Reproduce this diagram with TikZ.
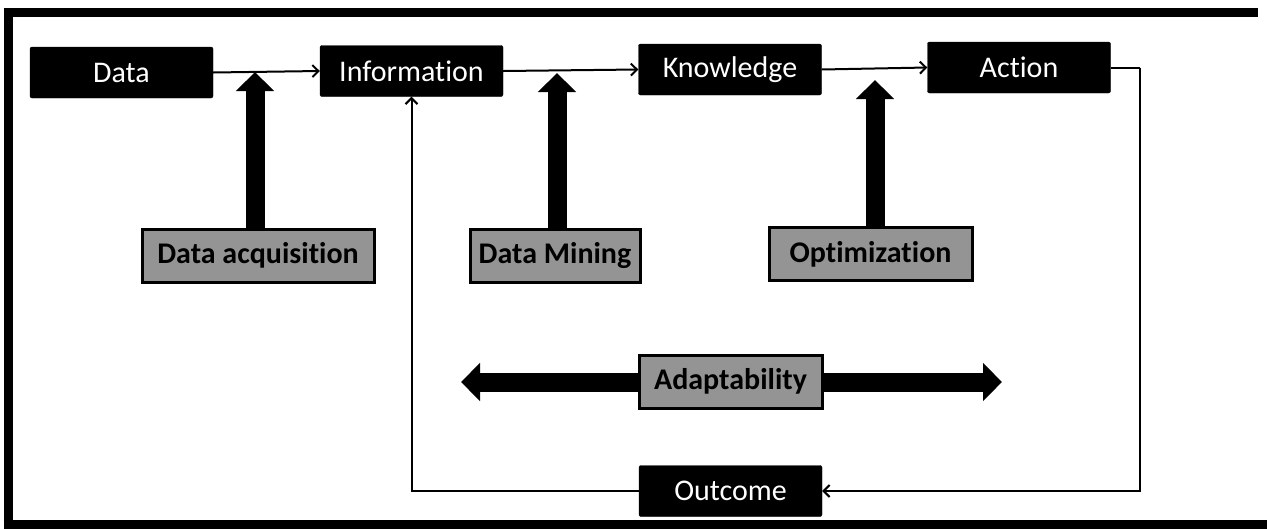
\documentclass[tikz,border=0pt]{standalone}
\usepackage{fontspec}
\setmainfont{Carlito}[Ligatures={NoCommon}]
\usetikzlibrary{arrows.meta}
\tikzset{
  darkbox/.style={draw=black, fill=black, text=white, rounded corners=2pt,
    minimum width=183pt, minimum height=51pt, inner sep=0pt,
    font=\fontsize{30}{32}\selectfont},
  lightbox/.style={draw=black, line width=3pt, fill=black!42, text=black,
    minimum height=53pt, inner sep=0pt,
    font=\bfseries\fontsize{30}{32}\selectfont},
  conn/.style={line width=2pt, -{Straight Barb[length=6pt,width=12pt]}},
  plainconn/.style={line width=2pt},
  fat/.style={line width=19pt, -{Triangle[length=19pt,width=37pt]}},
  fatboth/.style={line width=19pt, {Triangle[length=19pt,width=37pt]}-{Triangle[length=19pt,width=37pt]}},
  frameline/.style={line width=9pt}
}
\begin{document}
\begin{tikzpicture}[x=1pt,y=-1pt]
\useasboundingbox[fill=white] (0,0) rectangle (1267,528);
% frame
\coordinate (f1) at (8,12);
\coordinate (f2) at (8,528);
\coordinate (f3) at (3.5,12.5);
\coordinate (f4) at (1258,12.5);
\coordinate (f5) at (3.5,524.5);
\coordinate (f6) at (1267,524.5);
\draw[frameline] (f1) -- (f2);
\draw[frameline] (f3) -- (f4);
\draw[frameline] (f5) -- (f6);
% main row
\node[darkbox] (data) at (121.5,72.5) {Data};
\node[darkbox] (info) at (411.5,71) {Information};
\node[darkbox] (know) at (730,69.5) {Knowledge};
\node[darkbox] (act) at (1019,67.5) {Action};
\node[darkbox] (out) at (730.5,491) {Outcome};
% process boxes
\node[lightbox, minimum width=232pt] (dacq) at (258,255.5) {Data acquisition};
\node[lightbox, minimum width=170pt] (dmin) at (555,255.5) {Data Mining};
\node[lightbox, minimum width=203pt] (opt) at (870.5,254) {Optimization};
% thin connectors
\draw[conn] (data.east) -- (info.west);
\draw[conn] (info.east) -- (know.west);
\draw[conn] (know.east) -- (act.west);
\coordinate (rc) at (1140,67.5);
\draw[plainconn] (act.east) -- (rc);
\draw[conn] (rc) |- (out.east);
\draw[conn] (out.west) -| (info.south);
% thick arrows
\coordinate (t1) at (255,72);
\coordinate (t2) at (557,73);
\coordinate (t3) at (875,80);
\draw[fat] (t1 |- dacq.north) -- (t1);
\draw[fat] (t2 |- dmin.north) -- (t2);
\draw[fat] (t3 |- opt.north) -- (t3);
% adaptability
\coordinate (al) at (461,382);
\coordinate (ar) at (1002,382);
\draw[fatboth] (al) -- (ar);
\node[lightbox, minimum width=183pt] (adapt) at (730.5,381.5) {Adaptability};
\end{tikzpicture}
\end{document}
